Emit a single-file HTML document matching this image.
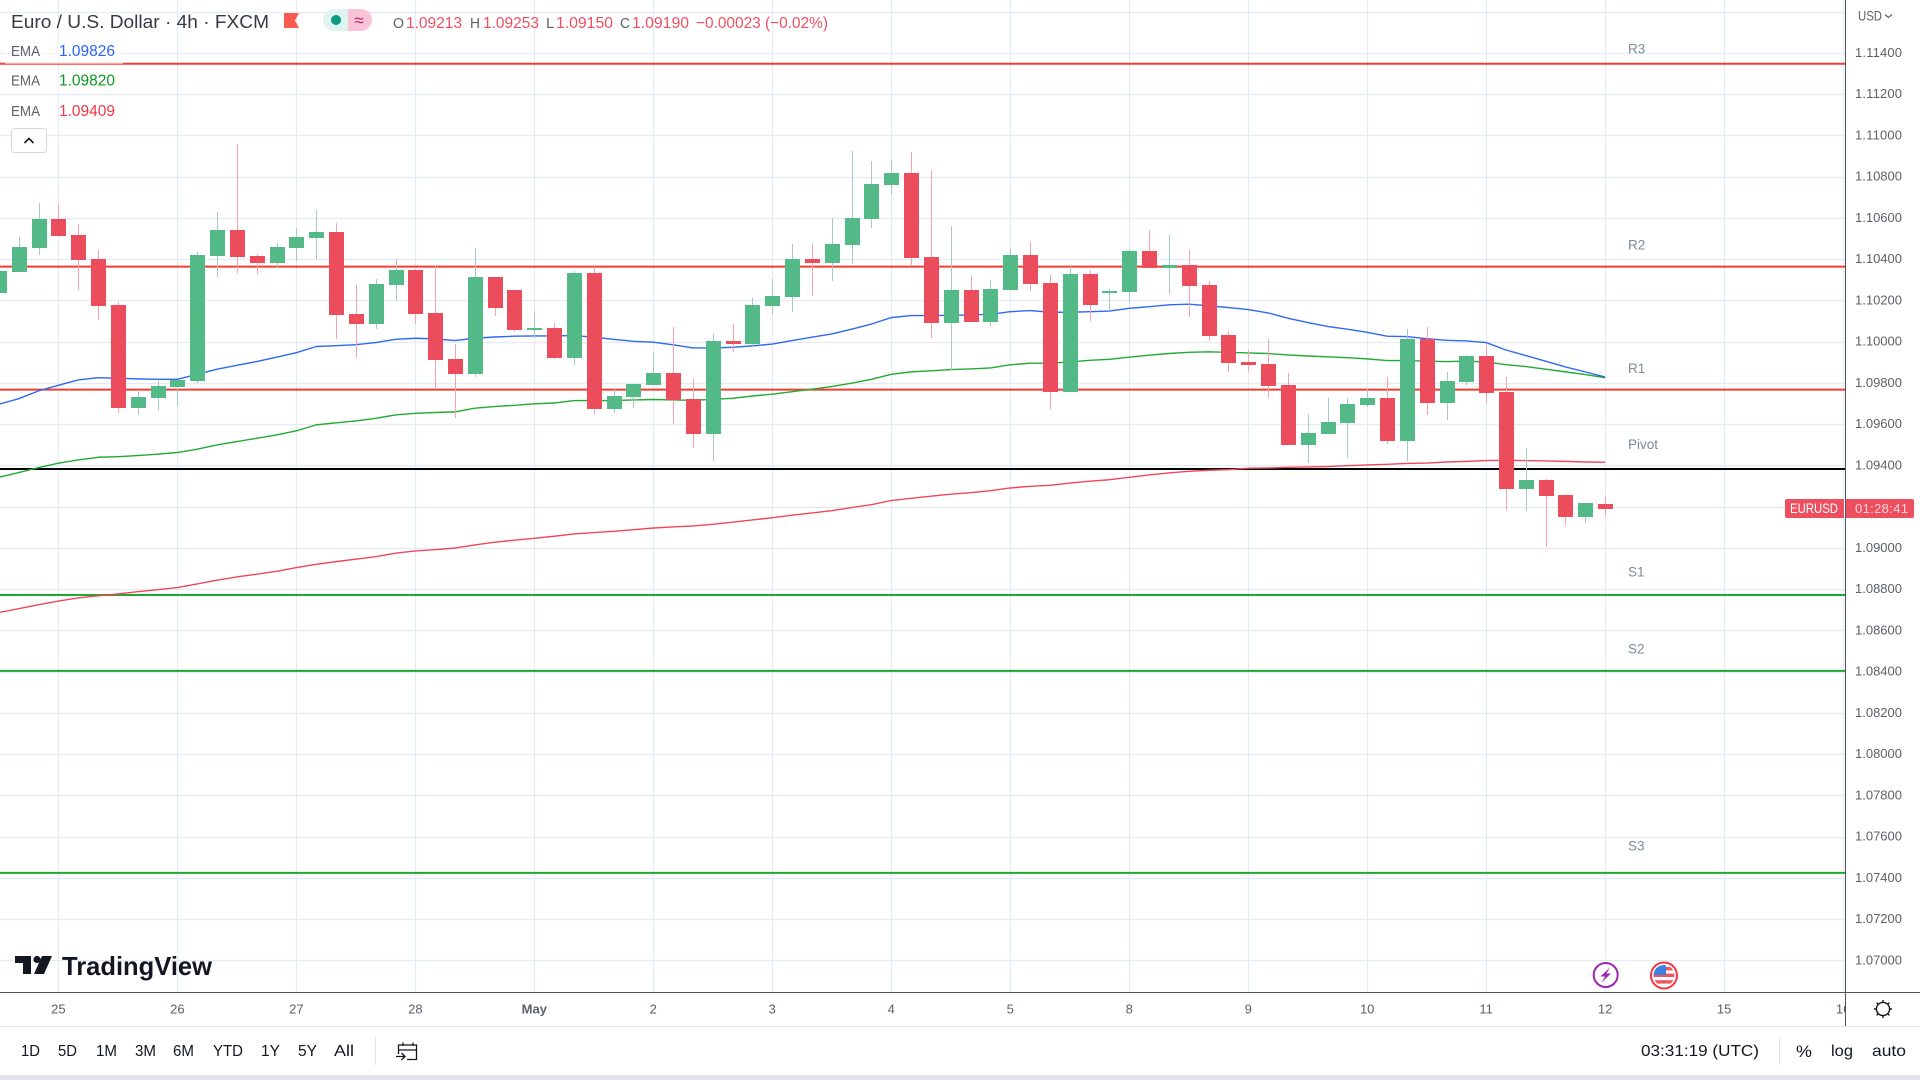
<!DOCTYPE html>
<html lang="en">
<head>
<meta charset="utf-8">
<title>EUR/USD 4h Chart</title>
<style>
html,body{margin:0;padding:0;background:#fff;width:1920px;height:1080px;overflow:hidden}
svg{display:block;font-family:"Liberation Sans",sans-serif}
</style>
</head>
<body>
<svg id="chart" xmlns="http://www.w3.org/2000/svg" width="1920" height="1080" viewBox="0 0 1920 1080">
  <defs>
    <clipPath id="plot-clip"><rect x="0" y="0" width="1845" height="992"/></clipPath>
    <clipPath id="time-clip"><rect x="0" y="993" width="1845" height="33"/></clipPath>
    <clipPath id="flag-clip"><circle cx="1664" cy="975.5" r="10.5"/></clipPath>
  </defs>
  <rect x="0" y="0" width="1920" height="1080" fill="#ffffff"/>
  <g id="grid"></g>
  <g id="levels" clip-path="url(#plot-clip)"></g>
  <g id="emas" clip-path="url(#plot-clip)"></g>
  <g id="candles" clip-path="url(#plot-clip)"></g>
  <g id="level-labels"></g>

  <g>
    <rect x="5" y="41" width="118" height="23" fill="#fff" fill-opacity="0.55"/>
    <rect x="5" y="70" width="118" height="23" fill="#fff" fill-opacity="0.55"/>
    <text x="11" y="28" font-size="18.5" fill="#363a45" textLength="258" lengthAdjust="spacingAndGlyphs">Euro / U.S. Dollar · 4h · FXCM</text>
    <path d="M284 13H299L295 20.5L299 28H284Z" fill="#fb5a50"/>
    <g>
      <path d="M348 9H334a11 11 0 0 0 0 22H348Z" fill="#dff3ef"/>
      <path d="M348 9H361a11 11 0 0 1 0 22H348Z" fill="#fbc3d6"/>
      <circle cx="336" cy="20" r="5" fill="#089981"/>
      <text x="359" y="26" text-anchor="middle" font-size="17" fill="#c2185b">≈</text>
    </g>
    <g font-size="16">
      <text x="393" y="28" fill="#5d606b" font-size="15" textLength="11" lengthAdjust="spacingAndGlyphs">O</text>
      <text x="406" y="28" fill="#ef5061" textLength="56" lengthAdjust="spacingAndGlyphs">1.09213</text>
      <text x="470" y="28" fill="#5d606b" font-size="15" textLength="10" lengthAdjust="spacingAndGlyphs">H</text>
      <text x="483" y="28" fill="#ef5061" textLength="56" lengthAdjust="spacingAndGlyphs">1.09253</text>
      <text x="546" y="28" fill="#5d606b" font-size="15">L</text>
      <text x="556" y="28" fill="#ef5061" textLength="57" lengthAdjust="spacingAndGlyphs">1.09150</text>
      <text x="620" y="28" fill="#5d606b" font-size="15" textLength="10" lengthAdjust="spacingAndGlyphs">C</text>
      <text x="632" y="28" fill="#ef5061" textLength="57" lengthAdjust="spacingAndGlyphs">1.09190</text>
      <text x="696" y="28" fill="#ef5061" textLength="132" lengthAdjust="spacingAndGlyphs">−0.00023 (−0.02%)</text>
    </g>
    <text x="11" y="56" font-size="14.5" fill="#5d606b" textLength="29" lengthAdjust="spacingAndGlyphs">EMA</text>
    <text x="59" y="56" font-size="16" fill="#2962ff" textLength="56" lengthAdjust="spacingAndGlyphs">1.09826</text>
    <text x="11" y="85.5" font-size="14.5" fill="#5d606b" textLength="29" lengthAdjust="spacingAndGlyphs">EMA</text>
    <text x="59" y="85.5" font-size="16" fill="#089a1e" textLength="56" lengthAdjust="spacingAndGlyphs">1.09820</text>
    <text x="11" y="116" font-size="14.5" fill="#5d606b" textLength="29" lengthAdjust="spacingAndGlyphs">EMA</text>
    <text x="59" y="116" font-size="16" fill="#f23645" textLength="56" lengthAdjust="spacingAndGlyphs">1.09409</text>
    <g>
      <rect x="11.5" y="128.5" width="35" height="24" rx="3" fill="#fff" stroke="#d6d8e0"/>
      <path d="M24.5 143L29 138.5L33.5 143" fill="none" stroke="#131722" stroke-width="1.6"/>
    </g>
  </g>

  <g>
    <path d="M15 956H31V974H23V963H15ZM34 974L42 956H52L44 974Z" fill="#131722"/>
    <circle cx="37" cy="959.5" r="3.6" fill="#131722"/>
    <text x="62" y="975" font-size="26" font-weight="700" fill="#131722" textLength="150" lengthAdjust="spacingAndGlyphs">TradingView</text>
  </g>

  <g>
    <circle cx="1605.7" cy="975" r="12" fill="#fff" stroke="#9c27b0" stroke-width="2"/>
    <path d="M1610 967.5L1600.5 976.5H1605L1601.5 982.5L1611 973.5H1606.5Z" fill="#9c27b0"/>
  </g>
  <g>
    <circle cx="1664" cy="975.5" r="13" fill="#fff" stroke="#f23645" stroke-width="2"/>
    <g clip-path="url(#flag-clip)">
      <rect x="1653" y="965" width="22" height="21" fill="#fff"/>
      <rect x="1653" y="967" width="22" height="3.4" fill="#f2545f"/>
      <rect x="1653" y="973.6" width="22" height="3.4" fill="#f2545f"/>
      <rect x="1653" y="980.2" width="22" height="3.4" fill="#f2545f"/>
      <rect x="1653" y="965" width="13" height="10" fill="#3d7fe0"/>
    </g>
  </g>

  <line x1="0" y1="992.5" x2="1920" y2="992.5" stroke="#50535e" stroke-width="1"/>
  <line x1="1845.5" y1="0" x2="1845.5" y2="1026" stroke="#50535e" stroke-width="1"/>
  <g id="price-axis"></g>
  <g id="time-axis" clip-path="url(#time-clip)"></g>

  <g>
    <text x="1858" y="20.5" font-size="13.5" fill="#5d606b" textLength="24" lengthAdjust="spacingAndGlyphs">USD</text>
    <path d="M1885 14.5L1888.5 17.5L1892 14.5" fill="none" stroke="#5d606b" stroke-width="1.2"/>
  </g>

  <g>
    <path d="M1787 499H1844V518H1787a2 2 0 0 1-2-2V501a2 2 0 0 1 2-2Z" fill="#ee4f5f"/>
    <text x="1790" y="513" font-size="13.5" fill="#ffffff" textLength="48" lengthAdjust="spacingAndGlyphs">EURUSD</text>
    <path d="M1846 499H1912a2 2 0 0 1 2 2V516a2 2 0 0 1-2 2H1846Z" fill="#ee4f5f"/>
    <text x="1855" y="513" font-size="13" fill="#fdd5da" textLength="53">01:28:41</text>
  </g>

  <g fill="none" stroke="#131722" stroke-width="1.4">
    <circle cx="1883" cy="1009" r="6.6"/>
    <path d="M1883 1000V1002.4M1883 1015.6V1018M1874 1009H1876.4M1889.6 1009H1892M1876.6 1002.6L1878.3 1004.3M1887.7 1013.7L1889.4 1015.4M1876.6 1015.4L1878.3 1013.7M1887.7 1004.3L1889.4 1002.6"/>
  </g>

  <line x1="0" y1="1026.5" x2="1920" y2="1026.5" stroke="#e0e3eb" stroke-width="1"/>
  <g font-size="16" fill="#131722">
    <text x="21" y="1056" textLength="19" lengthAdjust="spacingAndGlyphs">1D</text>
    <text x="58" y="1056" textLength="19" lengthAdjust="spacingAndGlyphs">5D</text>
    <text x="96" y="1056" textLength="21" lengthAdjust="spacingAndGlyphs">1M</text>
    <text x="135" y="1056" textLength="21" lengthAdjust="spacingAndGlyphs">3M</text>
    <text x="173" y="1056" textLength="21" lengthAdjust="spacingAndGlyphs">6M</text>
    <text x="213" y="1056" textLength="30" lengthAdjust="spacingAndGlyphs">YTD</text>
    <text x="261" y="1056" textLength="19" lengthAdjust="spacingAndGlyphs">1Y</text>
    <text x="298" y="1056" textLength="19" lengthAdjust="spacingAndGlyphs">5Y</text>
    <text x="334" y="1056" textLength="20" lengthAdjust="spacingAndGlyphs">All</text>
    <line x1="375.5" y1="1037" x2="375.5" y2="1065" stroke="#e0e3eb"/>
    <g fill="none" stroke="#131722" stroke-width="1.3">
      <path d="M403 1042.5V1046M413 1042.5V1046M398 1050H416.5M398.5 1054V1045H416.5V1059.5H407"/>
      <path d="M396 1056.5H405M401.5 1053L405 1056.5L401.5 1060"/>
    </g>
    <text x="1641" y="1056" textLength="118" lengthAdjust="spacingAndGlyphs">03:31:19 (UTC)</text>
    <line x1="1779.5" y1="1037" x2="1779.5" y2="1065" stroke="#e0e3eb"/>
    <text x="1796" y="1057" font-size="17" textLength="16" lengthAdjust="spacingAndGlyphs">%</text>
    <text x="1831" y="1056" textLength="22" lengthAdjust="spacingAndGlyphs">log</text>
    <text x="1872" y="1056" textLength="34" lengthAdjust="spacingAndGlyphs">auto</text>
  </g>
  <rect x="0" y="1075" width="1920" height="5" fill="#e0e3eb"/>
</svg>

<script>
const dayLabels = ['25','26','27','28','May','2','3','4','5','8','9','10','11','12','15','16'];
const barsPerDay = 6;
const firstBar = -3;
const priceTicks = ['1.11400','1.11200','1.11000','1.10800','1.10600','1.10400','1.10200','1.10000','1.09800','1.09600','1.09400','1.09200','1.09000','1.08800','1.08600','1.08400','1.08200','1.08000','1.07800','1.07600','1.07400','1.07200','1.07000'];
const extraGridPrices = [1.116];

const levelNames = ['R3','R2','R1','Pivot','S1','S2','S3'];
const levelPrices = [1.11347,1.10363,1.09767,1.09382,1.08771,1.08403,1.07424];
const levelLabelPrices = [1.11418,1.10468,1.09869,1.09501,1.08883,1.08510,1.07555];
const levelColors = ['#f23c31','#f23c31','#f23c31','#000000','#1fa82f','#1fa82f','#1fa82f'];

const opens = [1.10233,1.10339,1.10456,1.10594,1.10517,1.10401,1.10178,1.09680,1.09727,1.09780,1.09809,1.10415,1.10541,1.10415,1.10381,1.10454,1.10502,1.10531,1.10134,1.10085,1.10275,1.10347,1.10139,1.09916,1.09843,1.10313,1.10250,1.10056,1.10066,1.09921,1.10333,1.09673,1.09732,1.09790,1.09848,1.09722,1.09552,1.10003,1.09988,1.10173,1.10216,1.10401,1.10381,1.10468,1.10594,1.10759,1.10818,1.10410,1.10090,1.10250,1.10095,1.10250,1.10420,1.10284,1.09756,1.10328,1.10241,1.10241,1.10439,1.10357,1.10371,1.10275,1.10032,1.09901,1.09892,1.09790,1.09499,1.09552,1.09606,1.09693,1.09727,1.09518,1.10013,1.09702,1.09804,1.09930,1.09756,1.09286,1.09329,1.09256,1.09150,1.09213];
const highs = [1.10350,1.10507,1.10672,1.10672,1.10570,1.10444,1.10192,1.09765,1.09809,1.09814,1.10434,1.10628,1.10958,1.10425,1.10478,1.10551,1.10638,1.10575,1.10275,1.10304,1.10401,1.10352,1.10371,1.09988,1.10454,1.10313,1.10250,1.10148,1.10090,1.10342,1.10362,1.09770,1.09795,1.09950,1.10071,1.09819,1.10037,1.10085,1.10211,1.10304,1.10473,1.10473,1.10599,1.10924,1.10876,1.10881,1.10919,1.10832,1.10561,1.10318,1.10299,1.10454,1.10483,1.10323,1.10371,1.10347,1.10255,1.10449,1.10541,1.10517,1.10444,1.10294,1.10052,1.09959,1.10013,1.09848,1.09649,1.09727,1.09727,1.09775,1.09828,1.10061,1.10071,1.09853,1.09935,1.09984,1.09828,1.09484,1.09334,1.09261,1.09218,1.09253];
const lows = [1.10225,1.10338,1.10420,1.10512,1.10250,1.10102,1.09654,1.09644,1.09669,1.09688,1.09799,1.10313,1.10333,1.10328,1.10357,1.10391,1.10401,1.10013,1.09921,1.10061,1.10197,1.10085,1.09770,1.09630,1.09828,1.10124,1.10047,1.10018,1.09916,1.09887,1.09649,1.09654,1.09678,1.09790,1.09601,1.09484,1.09421,1.09950,1.09974,1.10134,1.10144,1.10221,1.10294,1.10376,1.10551,1.10716,1.10371,1.10018,1.09863,1.10095,1.10071,1.10250,1.10245,1.09673,1.09756,1.10100,1.10148,1.10187,1.10357,1.10231,1.10119,1.10003,1.09853,1.09853,1.09727,1.09499,1.09412,1.09552,1.09436,1.09683,1.09504,1.09421,1.09644,1.09620,1.09790,1.09698,1.09184,1.09179,1.09004,1.09111,1.09121,1.09150];
const closes = [1.10342,1.10459,1.10594,1.10514,1.10397,1.10174,1.09680,1.09732,1.09785,1.09814,1.10420,1.10541,1.10410,1.10381,1.10459,1.10507,1.10531,1.10129,1.10085,1.10279,1.10347,1.10134,1.09911,1.09843,1.10313,1.10163,1.10056,1.10066,1.09921,1.10333,1.09673,1.09736,1.09795,1.09848,1.09717,1.09552,1.10003,1.09988,1.10178,1.10221,1.10401,1.10381,1.10473,1.10599,1.10764,1.10818,1.10405,1.10090,1.10250,1.10095,1.10255,1.10420,1.10279,1.09756,1.10328,1.10178,1.10245,1.10439,1.10357,1.10371,1.10270,1.10027,1.09896,1.09887,1.09785,1.09499,1.09557,1.09610,1.09698,1.09727,1.09518,1.10013,1.09702,1.09809,1.09930,1.09751,1.09286,1.09329,1.09252,1.09150,1.09218,1.09190];

const emaFast = [1.09696,1.09723,1.09761,1.09788,1.09814,1.09825,1.09822,1.09819,1.09817,1.09817,1.09841,1.09866,1.09885,1.09903,1.09924,1.09946,1.09976,1.09980,1.09985,1.09995,1.10011,1.10016,1.10013,1.10005,1.10016,1.10022,1.10026,1.10027,1.10027,1.10029,1.10021,1.10011,1.10001,1.09997,1.09984,1.09969,1.09969,1.09972,1.09979,1.09988,1.10005,1.10021,1.10037,1.10060,1.10085,1.10116,1.10126,1.10126,1.10127,1.10129,1.10132,1.10145,1.10150,1.10142,1.10142,1.10145,1.10148,1.10161,1.10169,1.10178,1.10181,1.10174,1.10165,1.10155,1.10139,1.10113,1.10092,1.10073,1.10060,1.10045,1.10026,1.10024,1.10014,1.10006,1.10003,1.09995,1.09959,1.09932,1.09905,1.09877,1.09853,1.09828];
const emaMid = [1.09342,1.09365,1.09389,1.09410,1.09426,1.09439,1.09442,1.09447,1.09454,1.09462,1.09478,1.09499,1.09515,1.09531,1.09547,1.09567,1.09596,1.09606,1.09615,1.09628,1.09644,1.09652,1.09656,1.09659,1.09677,1.09685,1.09691,1.09698,1.09702,1.09714,1.09714,1.09714,1.09717,1.09719,1.09717,1.09715,1.09720,1.09725,1.09736,1.09745,1.09757,1.09769,1.09782,1.09798,1.09817,1.09841,1.09853,1.09858,1.09864,1.09867,1.09872,1.09887,1.09895,1.09895,1.09901,1.09909,1.09914,1.09924,1.09934,1.09942,1.09948,1.09950,1.09948,1.09945,1.09942,1.09935,1.09930,1.09926,1.09922,1.09916,1.09908,1.09908,1.09905,1.09903,1.09905,1.09901,1.09888,1.09879,1.09866,1.09853,1.09840,1.09825];
const emaSlow = [1.08686,1.08705,1.08724,1.08742,1.08757,1.08767,1.08776,1.08787,1.08797,1.08807,1.08825,1.08843,1.08859,1.08872,1.08886,1.08904,1.08920,1.08933,1.08945,1.08957,1.08974,1.08985,1.08991,1.08999,1.09014,1.09027,1.09037,1.09046,1.09056,1.09067,1.09074,1.09080,1.09088,1.09096,1.09101,1.09106,1.09114,1.09124,1.09135,1.09146,1.09158,1.09169,1.09180,1.09195,1.09209,1.09229,1.09240,1.09250,1.09260,1.09267,1.09277,1.09290,1.09298,1.09303,1.09314,1.09323,1.09330,1.09342,1.09353,1.09363,1.09371,1.09376,1.09379,1.09386,1.09387,1.09390,1.09392,1.09394,1.09398,1.09402,1.09405,1.09409,1.09411,1.09416,1.09419,1.09423,1.09424,1.09423,1.09421,1.09419,1.09416,1.09415];

const SVG_NS = 'http://www.w3.org/2000/svg';
function xScale(barIndex) { return 58.4 + 19.83 * barIndex; }
function yScale(price) { return 135.3 + (1.11 - price) * 20625; }
function make(tag, attrs, parent) {
  const node = document.createElementNS(SVG_NS, tag);
  for (const key in attrs) node.setAttribute(key, attrs[key]);
  parent.appendChild(node);
  return node;
}

const gridGroup = document.getElementById('grid');
const GRID_COLOR = '#e3ecf3';
[...extraGridPrices, ...priceTicks.map(Number)].forEach(function (price) {
  const y = Math.round(yScale(price)) + 0.5;
  const line = make('line', {x1: 0, x2: 1845, y1: y, y2: y, stroke: GRID_COLOR, 'stroke-width': 1.2}, gridGroup);
  
  
});
dayLabels.forEach(function (label, d) {
  const x = Math.round(xScale(d * barsPerDay)) + 0.5;
  const line = make('line', {x1: x, x2: x, y1: 0, y2: 992, stroke: GRID_COLOR, 'stroke-width': 1.2}, gridGroup);
  
  
});

const priceAxis = document.getElementById('price-axis');
priceTicks.forEach(function (tick) {
  const t = make('text', {x: 1855, y: yScale(Number(tick)) + 4, 'font-size': 13, fill: '#5d606b', textLength: 47}, priceAxis);
  
  
  t.textContent = tick;
});

const timeAxis = document.getElementById('time-axis');
dayLabels.forEach(function (label, d) {
  const t = make('text', {x: xScale(d * barsPerDay), y: 1013.5, 'font-size': 13, 'text-anchor': 'middle', fill: '#5d606b', 'font-weight': label === 'May' ? 700 : 400}, timeAxis);
  
  
  t.textContent = label;
});

const levelsGroup = document.getElementById('levels');
const levelLabels = document.getElementById('level-labels');
levelNames.forEach(function (name, k) {
  const y = yScale(levelPrices[k]);
  const line = make('line', {x1: 0, x2: 1845, y1: y, y2: y, stroke: levelColors[k], 'stroke-width': 2}, levelsGroup);
  
  
  const t = make('text', {x: 1628, y: yScale(levelLabelPrices[k]) + 4.6, 'font-size': 13.5, fill: '#7d8a99'}, levelLabels);
  
  
  t.textContent = name;
});

const emaGroup = document.getElementById('emas');
function drawEma(values, color, name) {
  const d = values.map(function (v, k) {
    return (k ? 'L' : 'M') + xScale(k + firstBar).toFixed(2) + ' ' + yScale(v).toFixed(2);
  }).join('');
  const path = make('path', {d: d, fill: 'none', stroke: color, 'stroke-width': 1.4, 'stroke-linejoin': 'round'}, emaGroup);
  
  
}
drawEma(emaSlow, '#f0475a', 'ema-line-slow');
drawEma(emaMid, '#22ab33', 'ema-line-mid');
drawEma(emaFast, '#2f68f5', 'ema-line-fast');

const candleGroup = document.getElementById('candles');
closes.forEach(function (close, k) {
  const open = opens[k];
  const up = close >= open;
  const cx = Math.round(xScale(k + firstBar));
  const g = make('g', {'shape-rendering': 'crispEdges'}, candleGroup);
  
  
  const wickTop = yScale(highs[k]);
  const wickBottom = yScale(lows[k]);
  make('rect', {x: cx, y: wickTop, width: 1, height: Math.max(wickBottom - wickTop, 1), fill: up ? '#a5c9c9' : '#f6a2af'}, g);
  const top = Math.round(yScale(Math.max(open, close)));
  const bottom = Math.round(yScale(Math.min(open, close)));
  make('rect', {x: cx - 7, y: top, width: 15, height: Math.max(bottom - top, 2), fill: up ? '#53b987' : '#eb4d5c'}, g);
});
</script>
</body>
</html>
